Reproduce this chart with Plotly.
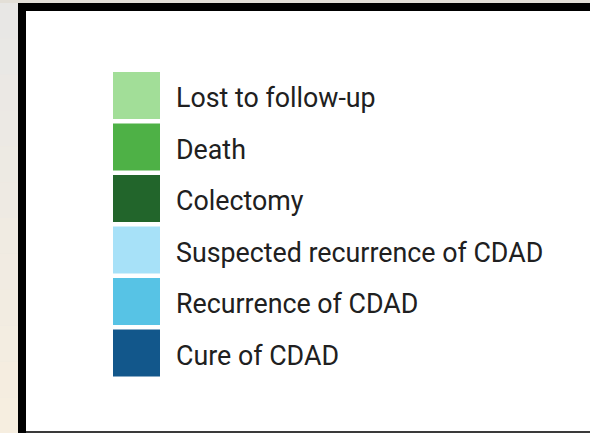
import plotly.graph_objects as go

# Legend entries (top to bottom)
labels = ["Lost to follow-up", "Death", "Colectomy",
          "Suspected recurrence of CDAD", "Recurrence of CDAD", "Cure of CDAD"]
colors = ["#a2de98", "#4eb146", "#22652b", "#a7e1f8", "#57c3e5", "#12578b"]

W, H = 590, 433
L, T = 18, 3                     # plot area origin in px
PW, PH = W - L, H - T            # plot area size
SQ = 47                          # square size px
PITCH = 51.5
SQ_CX = 136.5                    # square centre x (px)
TOP_CY = 95.5                    # first square centre y (px)
TEXT_X = 176                     # text left edge (px)
TEXT_DY = 5                      # text sits slightly below square centre (px)

n = len(labels)
idx = list(range(n))[::-1]       # top item has highest index
xr = [L - SQ_CX, W - SQ_CX]
r1 = (n - 1) + (TOP_CY - T) / PITCH
r0 = r1 - PH / PITCH

fig = go.Figure()
fig.add_trace(go.Scatter(
    x=[0] * n, y=idx, mode="markers",
    marker=dict(symbol="square", size=SQ, color=colors, line=dict(width=0)),
    hoverinfo="skip", showlegend=False,
))
fig.add_trace(go.Scatter(
    x=[TEXT_X - SQ_CX] * n, y=[v - TEXT_DY / PITCH for v in idx], mode="text", text=labels,
    textposition="middle right",
    textfont=dict(family="Roboto", size=26.8, color="#202020"),
    hoverinfo="skip", showlegend=False,
))


def px_x(p):
    return (p - L) / PW


def px_y(p):
    return 1 - (p - T) / PH


shapes = []
# top strip
shapes.append(dict(type="rect", xref="paper", yref="paper",
                   x0=px_x(0), x1=px_x(W), y0=px_y(3), y1=px_y(0),
                   fillcolor="#e3dfd7", line=dict(width=0), layer="below"))
# left strip fading from grey to cream
top_c = (232, 231, 229)
bot_c = (246, 238, 224)
bands = 12
for i in range(bands):
    t = i / (bands - 1)
    c = tuple(round(top_c[k] + (bot_c[k] - top_c[k]) * t) for k in range(3))
    shapes.append(dict(type="rect", xref="paper", yref="paper",
                       x0=px_x(0), x1=px_x(18),
                       y0=px_y(3 + (i + 1) * (H - 3) / bands), y1=px_y(3 + i * (H - 3) / bands),
                       fillcolor="rgb(%d,%d,%d)" % c, line=dict(width=0), layer="below"))
# black frame: top and left thick, bottom thin
shapes.append(dict(type="rect", xref="paper", yref="paper",
                   x0=px_x(18), x1=px_x(W), y0=px_y(11), y1=px_y(3),
                   fillcolor="black", line=dict(width=0), layer="below"))
shapes.append(dict(type="rect", xref="paper", yref="paper",
                   x0=px_x(18), x1=px_x(26), y0=px_y(H), y1=px_y(3),
                   fillcolor="black", line=dict(width=0), layer="below"))
shapes.append(dict(type="rect", xref="paper", yref="paper",
                   x0=px_x(26), x1=px_x(W), y0=px_y(H), y1=px_y(431),
                   fillcolor="#3a3a3a", line=dict(width=0), layer="below"))

fig.update_layout(
    width=W, height=H,
    margin=dict(l=L, r=0, t=T, b=0),
    paper_bgcolor="#ece8e2",
    plot_bgcolor="white",
    shapes=shapes,
    xaxis=dict(range=xr, visible=False, fixedrange=True),
    yaxis=dict(range=[r0, r1], visible=False, fixedrange=True),
)

fig.write_html(
    "out.html",
    config={"displayModeBar": False},
    post_script=(
        "document.documentElement.style.margin='0';"
        "document.documentElement.style.overflow='hidden';"
        "document.body.style.margin='0';"
        "document.body.style.overflow='hidden';"
    ),
)
